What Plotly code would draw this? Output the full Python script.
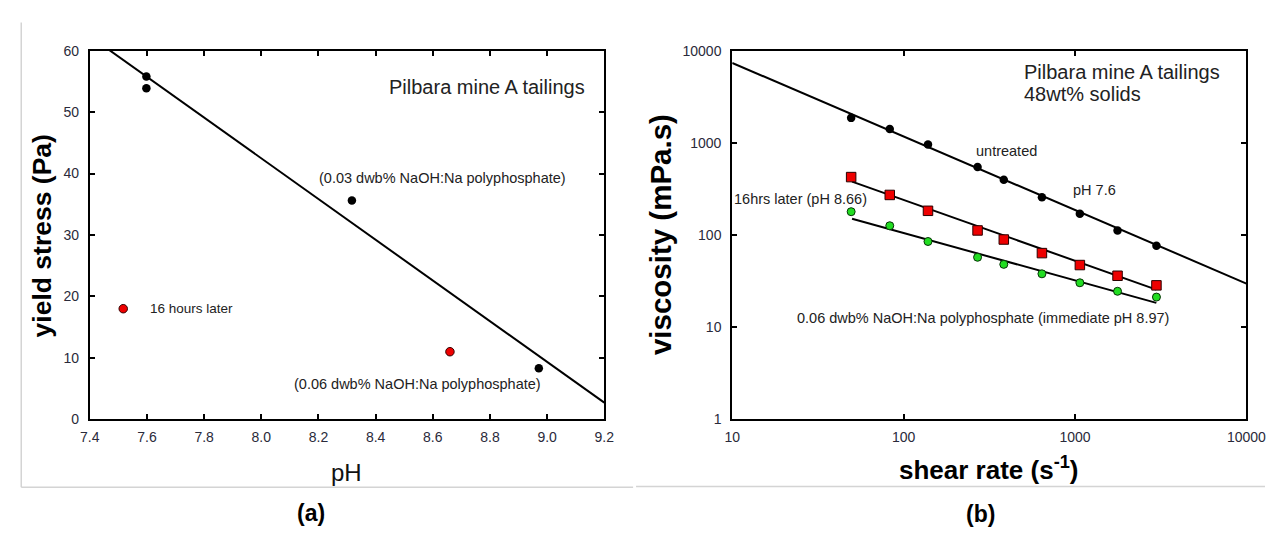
import numpy as np
import plotly.graph_objects as go

# ---------------- data: panel (a) ----------------
ph_black = [7.598, 7.598, 8.317, 8.971]
ys_black = [55.8, 53.9, 35.6, 8.3]
ph_red = [8.66]
ys_red = [11.0]
legend_red_ph = [7.517]
legend_red_ys = [18.0]
fit_a_slope = -33.14
fit_a_intercept = 307.6
fit_a_range = [7.4, 9.2]

# ---------------- data: panel (b) ----------------
shear_rate = [49.4, 83.0, 138.7, 270, 384, 641, 1067, 1770, 2985]
visc_untreated = [1866, 1415, 960, 546, 398, 257, 170, 112, 76.6]
visc_16hrs = [425, 272, 183, 112, 89.3, 63.6, 47.2, 36.1, 28.4]
visc_immediate = [179, 126, 85, 57.3, 48, 37.9, 30.3, 24.5, 21.2]
fit_untreated = dict(K=46230, n=-0.798, lo=10, hi=10000)
fit_16hrs = dict(K=5011, n=-0.660, lo=50, hi=2980)
fit_immediate = dict(K=1120, n=-0.514, lo=50, hi=2980)

x_log_ticks = [10, 100, 1000, 10000]
x_log_labels = ["10", "100", "1000", "10000"]
y_log_ticks = [1, 10, 100, 1000, 10000]
y_log_labels = ["1", "10", "100", "1000", "10000"]

W, H = 1285, 534
FONT = "Liberation Sans, Arial, sans-serif"
TICKC = "#2a2a3a"


def px(x):
    return x / W


def py(y):
    return 1 - y / H


fig = go.Figure()

# fit line (a)
xa = np.array(fit_a_range)
fig.add_trace(go.Scatter(x=xa, y=fit_a_intercept + fit_a_slope * xa, mode="lines",
                         line=dict(color="black", width=2), xaxis="x", yaxis="y",
                         showlegend=False, hoverinfo="skip"))
fig.add_trace(go.Scatter(x=ph_black, y=ys_black, mode="markers",
                         marker=dict(color="black", size=8.5), xaxis="x", yaxis="y",
                         showlegend=False))
fig.add_trace(go.Scatter(x=ph_red + legend_red_ph, y=ys_red + legend_red_ys, mode="markers",
                         marker=dict(color="#ee0000", size=8.5, line=dict(color="#300000", width=1)),
                         xaxis="x", yaxis="y", showlegend=False))

# fit lines (b)
for f in (fit_untreated, fit_16hrs, fit_immediate):
    g = np.array([f["lo"], f["hi"]], dtype=float)
    fig.add_trace(go.Scatter(x=g, y=f["K"] * g ** f["n"], mode="lines",
                             line=dict(color="black", width=2), xaxis="x2", yaxis="y2",
                             showlegend=False, hoverinfo="skip"))

fig.add_trace(go.Scatter(x=shear_rate, y=visc_untreated, mode="markers",
                         marker=dict(color="black", size=8.5), xaxis="x2", yaxis="y2",
                         showlegend=False))
fig.add_trace(go.Scatter(x=shear_rate, y=visc_16hrs, mode="markers",
                         marker=dict(color="#ee0000", size=9.5, symbol="square",
                                     line=dict(color="#2a0000", width=1)),
                         xaxis="x2", yaxis="y2", showlegend=False))
fig.add_trace(go.Scatter(x=shear_rate, y=visc_immediate, mode="markers",
                         marker=dict(color="#22dd22", size=8,
                                     line=dict(color="#063306", width=1)),
                         xaxis="x2", yaxis="y2", showlegend=False))

axis_common = dict(showline=True, linecolor="black", linewidth=2, mirror="ticks",
                   ticks="inside", ticklen=5, tickwidth=1.5, tickcolor="black",
                   showgrid=False, zeroline=False,
                   tickfont=dict(family=FONT, size=14, color=TICKC))

fig.update_layout(
    width=W, height=H, autosize=False,
    margin=dict(l=0, r=0, t=0, b=0),
    paper_bgcolor="white", plot_bgcolor="white",
    xaxis=dict(domain=[px(81.7), px(608.5)], range=[7.4, 9.2], dtick=0.2, tick0=7.4,
               tickformat=".1f", anchor="y", ticklabelstandoff=4, **axis_common),
    yaxis=dict(domain=[py(424), py(44)], range=[0, 60], dtick=10, anchor="x",
               ticklabelstandoff=6, **axis_common),
    xaxis2=dict(domain=[px(739.5), px(1266)], type="log", range=[1, 4],
                tickvals=x_log_ticks, ticktext=x_log_labels, anchor="y2",
                ticklabelstandoff=4, **axis_common),
    yaxis2=dict(domain=[py(424), py(44)], type="log", range=[0, 4],
                tickvals=y_log_ticks, ticktext=y_log_labels, anchor="x2",
                ticklabelstandoff=6, **axis_common),
)


def ann(text, x, y, size=12, bold=False, angle=0, xanchor="center", family=FONT, color="#222222"):
    if bold:
        text = "<b>" + text + "</b>"
    fig.add_annotation(text=text, x=px(x), y=py(y), xref="paper", yref="paper",
                       showarrow=False, textangle=angle, xanchor=xanchor, yanchor="middle",
                       font=dict(family=family, size=size, color=color))


# panel (a) texts
ann("Pilbara mine A tailings", 488.4, 81, size=20)
ann("(0.03 dwb% NaOH:Na polyphosphate)", 442.4, 175, size=14.5)
ann("16 hours later", 140.8, 310, size=13.5, xanchor="left")
ann("(0.06 dwb% NaOH:Na polyphosphate)", 417.3, 388, size=14.5)
ann("yield stress (Pa)", 33.7, 234.5, size=26.5, bold=True, angle=-90, color="black")
ann("pH", 345, 479, size=24, color="#111111")
ann("(a)", 308.3, 521, size=23, bold=True, color="black")

# panel (b) texts
ann("Pilbara mine A tailings", 1036, 66, size=20, xanchor="left")
ann("48wt% solids", 1036, 88.5, size=20, xanchor="left")
ann("untreated", 1020, 147, size=14.5)
ann("pH 7.6", 1110.4, 187.3, size=14.5)
ann("16hrs later (pH 8.66)", 809.7, 196.7, size=14.5)
ann("0.06 dwb% NaOH:Na polyphosphate (immediate pH 8.97)", 996.5, 320, size=14.5)
ann("viscosity (mPa.s)", 666.7, 234, size=29.5, bold=True, angle=-90, color="black")
ann("shear rate (s<sup>-1</sup>)", 1002, 475, size=26, bold=True, color="black")
ann("(b)", 993.8, 522, size=23, bold=True, color="black")

# light frame lines around panel images
frame = dict(color="#d4d4d4", width=1.5)
fig.add_shape(type="line", xref="paper", yref="paper", x0=px(11.5), x1=px(11.5),
              y0=py(15), y1=py(494), line=frame)
fig.add_shape(type="line", xref="paper", yref="paper", x0=px(11.5), x1=px(638),
              y0=py(494), y1=py(494), line=frame)
fig.add_shape(type="line", xref="paper", yref="paper", x0=px(641), x1=px(1285),
              y0=py(493.3), y1=py(493.3), line=frame)

fig.write_html("out.html", config={"displayModeBar": False},
               post_script="document.body.style.margin='0';document.body.style.overflow='hidden';")
